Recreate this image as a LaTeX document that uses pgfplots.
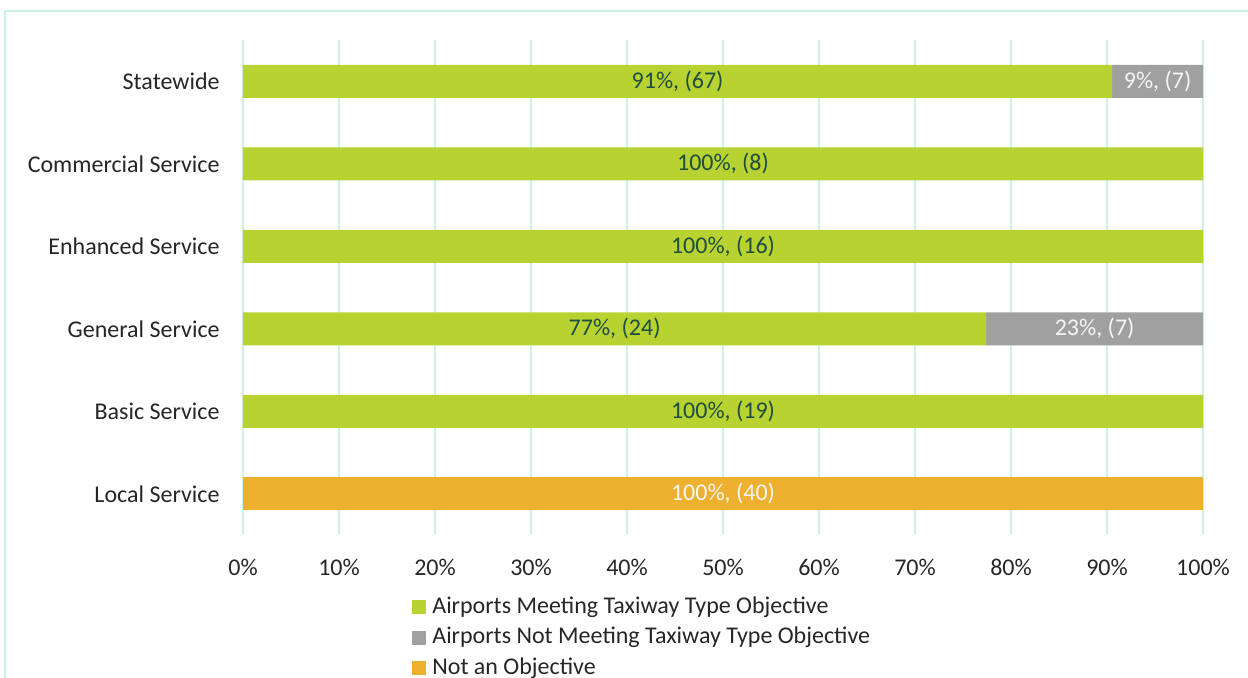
\documentclass[border=0pt]{standalone}
\usepackage{fontspec}
\setmainfont{Carlito}
\usepackage{pgfplots}
\pgfplotsset{compat=1.18}
\definecolor{cgreen}{RGB}{184,210,50}
\definecolor{cgray}{RGB}{160,160,160}
\definecolor{corange}{RGB}{237,177,47}
\definecolor{cgrid}{RGB}{204,242,235}
\definecolor{cdark}{RGB}{30,78,62}
\definecolor{ctext}{RGB}{38,38,38}
\definecolor{clabw}{RGB}{245,245,245}

\pgfplotsset{geom/.style={
  at={(121.5pt,71pt)}, anchor=south west,
  scale only axis, width=480pt, height=247.5pt,
  xmin=0, xmax=100, ymin=-0.5, ymax=5.5}}

\begin{document}
\begin{tikzpicture}[font=\fontsize{12}{14.4}\selectfont]
\useasboundingbox (0pt,0pt) rectangle (624pt,338.5pt);
\draw[cgrid, line width=1pt] (2.25pt,-10pt) -- (2.25pt,333pt) -- (640pt,333pt);
\begin{axis}[
  geom,
  xbar stacked, bar width=16.5pt,
  axis line style={draw=none},
  major tick length=0pt,
  xmajorgrids, grid style={cgrid, line width=1pt},
  xtick={0,10,...,100},
  xticklabels={0\%,10\%,20\%,30\%,40\%,50\%,60\%,70\%,80\%,90\%,100\%},
  ytick={0,1,2,3,4,5},
  yticklabels={Local Service,Basic Service,General Service,Enhanced Service,Commercial Service,Statewide},
  ticklabel style={text=ctext, inner sep=0pt},
  xticklabel style={anchor=center, yshift=-16pt},
  yticklabel style={anchor=east, xshift=-11.5pt},
  /pgf/number format/assume math mode=true,
  legend cell align=left,
  legend style={at={(0.176,-0.123)}, anchor=north west, draw=none, fill=none, inner sep=0pt,
    nodes={inner sep=0pt, text height=8.5pt, text depth=2.5pt, text=ctext},
    row sep=4.25pt, column sep=3pt},
]
% Airports Meeting Taxiway Type Objective (% of airports)
\addplot[fill=cgreen, draw=none,
  legend image code/.code={\fill[cgreen] (0pt,-3.5pt) rectangle (7pt,3.5pt);}]
  coordinates {(0,0) (100,1) (77.42,2) (100,3) (100,4) (90.54,5)};
\addlegendentry{Airports Meeting Taxiway Type Objective}
% Airports Not Meeting Taxiway Type Objective
\addplot[fill=cgray, draw=none,
  legend image code/.code={\fill[cgray] (0pt,-3.5pt) rectangle (7pt,3.5pt);}]
  coordinates {(0,0) (0,1) (22.58,2) (0,3) (0,4) (9.46,5)};
\addlegendentry{Airports Not Meeting Taxiway Type Objective}
% Not an Objective
\addplot[fill=corange, draw=none,
  legend image code/.code={\fill[corange] (0pt,-3.5pt) rectangle (7pt,3.5pt);}]
  coordinates {(100,0) (0,1) (0,2) (0,3) (0,4) (0,5)};
\addlegendentry{Not an Objective}
\end{axis}
% segment labels, at the middle of each segment
\begin{axis}[geom, hide axis, point meta=explicit symbolic, nodes near coords,
  every node near coord/.append style={anchor=center, inner sep=0pt}]
\addplot[draw=none, mark=none, nodes near coords style={text=cdark}]
  coordinates {(45.27,5) [91\%, (67)] (50,4) [100\%, (8)] (50,3) [100\%, (16)]
               (38.71,2) [77\%, (24)] (50,1) [100\%, (19)]};
\addplot[draw=none, mark=none, nodes near coords style={text=clabw}]
  coordinates {(95.27,5) [9\%, (7)] (88.71,2) [23\%, (7)] (50,0) [100\%, (40)]};
\end{axis}
\end{tikzpicture}
\end{document}
